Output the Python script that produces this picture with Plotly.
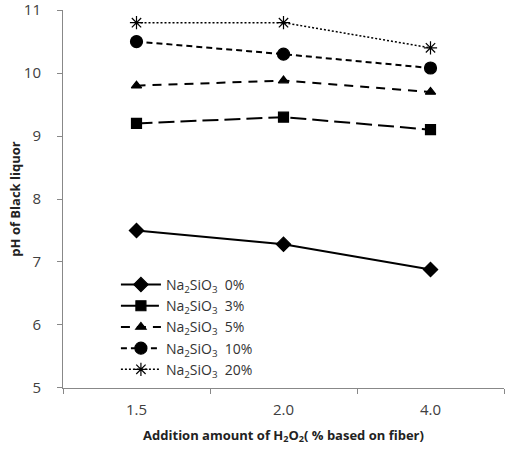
import plotly.graph_objects as go

categories = ["1.5", "2.0", "4.0"]
series_names = ["Na<sub>2</sub>SiO<sub>3</sub>  0%", "Na<sub>2</sub>SiO<sub>3</sub>  3%",
                "Na<sub>2</sub>SiO<sub>3</sub>  5%", "Na<sub>2</sub>SiO<sub>3</sub>  10%",
                "Na<sub>2</sub>SiO<sub>3</sub>  20%"]
na0 = [7.5, 7.28, 6.88]
na3 = [9.2, 9.3, 9.1]
na5 = [9.8, 9.88, 9.7]
na10 = [10.5, 10.3, 10.08]
na20 = [10.8, 10.8, 10.4]
y_ticks = [5, 6, 7, 8, 9, 10, 11]

values = [na0, na3, na5, na10, na20]
symbols = ["diamond", "square", "triangle-up", "circle", "asterisk-open"]
dashes = ["solid", "16px,6px", "9px,7px", "6px,4px", "2px,2px"]
widths = [2, 2, 2, 2, 1.5]
msizes = [11, 10, 9, 12, 11]

fig = go.Figure()
for name, vals, sym, d, w, ms in zip(series_names, values, symbols, dashes, widths, msizes):
    fig.add_trace(go.Scatter(
        x=categories, y=vals, name=name, mode="lines+markers",
        line=dict(color="black", width=w, dash=d),
        marker=dict(symbol=sym, size=ms, color="black",
                    line=dict(color="black", width=1.2)),
    ))

fig.update_layout(
    width=507, height=452,
    margin=dict(l=63, r=3, t=10, b=64),
    plot_bgcolor="white", paper_bgcolor="white",
    font=dict(family="Open Sans, Liberation Sans, sans-serif", color="#333"),
    showlegend=True,
    legend=dict(x=0.12, y=0.315, xanchor="left", yanchor="top",
                bgcolor="rgba(0,0,0,0)", font=dict(size=14, color="#333"),
                tracegroupgap=0, itemwidth=40),
    xaxis=dict(type="category", tickson="boundaries", ticks="outside", ticklen=5,
               tickcolor="#888", showline=True, linecolor="#888", linewidth=1,
               showgrid=False, range=[-0.5, 2.5], ticklabelstandoff=8,
               automargin="height",
               tickfont=dict(size=15, color="#404040"),
               title=dict(text="<b>Addition amount of H<sub>2</sub>O<sub>2</sub>( % based on fiber)</b>",
                          font=dict(size=13, color="#222"), standoff=12)),
    yaxis=dict(range=[4.999, 11.001], tickvals=y_ticks, ticks="outside", ticklen=5,
               tickcolor="#888", showline=True, linecolor="#888", linewidth=1,
               showgrid=False, zeroline=False, ticklabelstandoff=13,
               ticklabeloverflow="allow", automargin="left",
               tickfont=dict(size=15, color="#404040"),
               title=dict(text="<b>pH of Black liquor</b>", font=dict(size=13, color="#222"),
                          standoff=0)),
)

fig.write_html("out.html")
